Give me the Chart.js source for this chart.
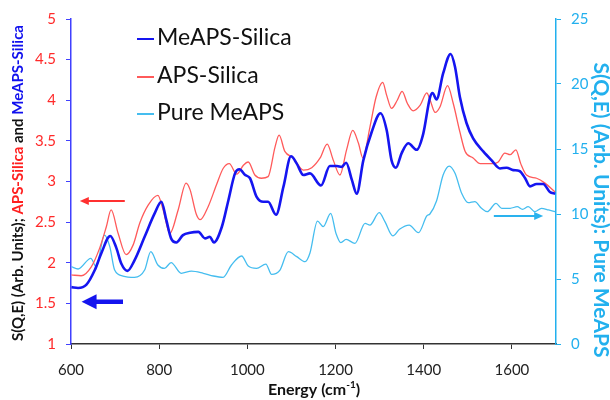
<!DOCTYPE html>
<html lang="en">
<head>
<meta charset="UTF-8">
<title>S(Q,E) spectra</title>
<script src="https://cdn.jsdelivr.net/npm/chart.js"></script>
<style>
  * { margin: 0; padding: 0; box-sizing: border-box; }
  body { background: #fff; width: 610px; height: 400px; overflow: hidden; }
  #chartWrap { position: relative; width: 610px; height: 400px; }
</style>
</head>
<body>
<div id="chartWrap"><canvas id="spectraChart" width="610" height="400"></canvas></div>
<script>
// MeAPS-Silica (left axis)
const meapsSilicaEnergy = [601, 616, 635, 654, 669, 689, 703, 714, 728, 744, 767, 790, 805, 816, 827, 839, 854, 870, 889, 904, 915, 924, 942, 957, 972, 982, 995, 1006, 1021, 1036, 1047, 1065, 1082, 1099, 1112, 1127, 1142, 1167, 1187, 1203, 1214, 1224, 1237, 1248, 1263, 1282, 1302, 1316, 1327, 1337, 1350, 1365, 1384, 1399, 1414, 1420, 1429, 1444, 1461, 1471, 1482, 1497, 1512, 1535, 1554, 1573, 1588, 1603, 1617, 1630, 1641, 1656, 1671, 1686, 1698];
const meapsSilicaValues = [1.70, 1.69, 1.73, 1.91, 2.12, 2.33, 2.18, 1.99, 1.90, 2.03, 2.32, 2.61, 2.75, 2.53, 2.30, 2.25, 2.34, 2.37, 2.38, 2.30, 2.32, 2.25, 2.44, 2.77, 3.10, 3.15, 3.08, 3.04, 2.81, 2.75, 2.75, 2.59, 2.94, 3.31, 3.22, 3.08, 3.10, 2.95, 3.19, 3.19, 3.18, 3.23, 3.02, 2.85, 3.26, 3.61, 3.84, 3.63, 3.26, 3.17, 3.35, 3.47, 3.39, 3.59, 4.03, 4.09, 4.01, 4.33, 4.57, 4.41, 4.04, 3.72, 3.53, 3.37, 3.26, 3.16, 3.17, 3.14, 3.13, 3.04, 2.94, 2.97, 2.97, 2.87, 2.85];

// APS-Silica (left axis)
const apsSilicaEnergy = [601, 623, 646, 665, 680, 691, 707, 725, 741, 756, 775, 797, 809, 824, 843, 861, 870, 884, 893, 911, 930, 945, 959, 976, 991, 1002, 1017, 1032, 1047, 1063, 1072, 1085, 1104, 1127, 1146, 1165, 1181, 1195, 1210, 1225, 1239, 1252, 1262, 1278, 1292, 1307, 1316, 1327, 1340, 1351, 1363, 1376, 1392, 1407, 1414, 1426, 1437, 1454, 1467, 1482, 1494, 1512, 1528, 1558, 1569, 1584, 1596, 1609, 1620, 1633, 1656, 1675, 1698];
const apsSilicaValues = [1.85, 1.84, 1.95, 2.18, 2.44, 2.65, 2.36, 2.10, 2.22, 2.49, 2.71, 2.83, 2.65, 2.36, 2.65, 2.98, 2.90, 2.60, 2.53, 2.69, 2.96, 3.16, 3.22, 3.09, 3.20, 3.24, 3.08, 3.04, 3.06, 3.43, 3.57, 3.37, 3.29, 3.14, 3.17, 3.29, 3.46, 3.26, 3.08, 3.39, 3.63, 3.47, 3.29, 3.67, 4.04, 4.22, 4.06, 3.90, 4.00, 4.11, 3.96, 3.87, 3.94, 4.09, 4.01, 3.85, 3.92, 4.18, 3.96, 3.61, 3.37, 3.29, 3.22, 3.22, 3.24, 3.35, 3.33, 3.39, 3.22, 3.08, 3.04, 2.98, 2.87];

// Pure MeAPS (right axis)
const pureMeapsEnergy = [601, 616, 645, 657, 676, 688, 699, 718, 744, 767, 781, 797, 812, 827, 850, 873, 900, 923, 945, 964, 987, 1002, 1021, 1042, 1055, 1074, 1093, 1112, 1131, 1142, 1159, 1172, 1189, 1201, 1212, 1224, 1244, 1267, 1278, 1299, 1312, 1330, 1345, 1367, 1388, 1407, 1414, 1429, 1444, 1458, 1471, 1486, 1501, 1516, 1531, 1544, 1564, 1577, 1596, 1612, 1624, 1637, 1652, 1667, 1683, 1698];
const pureMeapsValues = [5.95, 5.77, 6.59, 5.95, 8.38, 7.49, 5.69, 5.23, 5.13, 5.69, 7.10, 6.08, 5.82, 6.26, 5.44, 5.60, 5.44, 5.23, 5.13, 6.08, 6.77, 6.00, 5.82, 6.15, 5.36, 5.69, 7.10, 6.72, 6.33, 7.00, 9.45, 9.03, 10.05, 8.51, 7.80, 8.05, 7.74, 9.28, 9.15, 10.10, 9.41, 8.31, 8.82, 9.15, 8.56, 9.85, 10.00, 11.00, 13.00, 13.69, 13.13, 11.59, 10.87, 10.95, 10.44, 10.18, 10.82, 10.44, 10.44, 10.56, 10.36, 10.56, 10.18, 10.44, 10.31, 10.18];

const seriesLabels = ['MeAPS-Silica', 'APS-Silica', 'Pure MeAPS'];
const energyTicks = [600, 800, 1000, 1200, 1400, 1600];

const BLUE = '#1515f0';
const RED = '#ff5a5a';
const CYAN = '#45bdef';
const AXIS_RED = '#ff2a2a';
const AXIS_CYAN = '#22b0ee';

function toPoints(xs, ys) {
    return xs.map((x, i) => ({ x: x, y: ys[i] }));
}

function drawArrow(ctx, x1, y, x2, lw, headLen, headHalf, color) {
    const dir = x2 > x1 ? 1 : -1;
    ctx.save();
    ctx.strokeStyle = color;
    ctx.fillStyle = color;
    ctx.lineWidth = lw;
    ctx.beginPath();
    ctx.moveTo(x1, y);
    ctx.lineTo(x2 - dir * headLen * 0.8, y);
    ctx.stroke();
    ctx.beginPath();
    ctx.moveTo(x2, y);
    ctx.lineTo(x2 - dir * headLen, y - headHalf);
    ctx.lineTo(x2 - dir * headLen, y + headHalf);
    ctx.closePath();
    ctx.fill();
    ctx.restore();
}

// arrows, legend and axis titles
const decorations = {
    id: 'decorations',
    afterDatasetsDraw(chart) {
        const ctx = chart.ctx;
        const x = chart.scales.x, yl = chart.scales.yLeft, yr = chart.scales.yRight;
        drawArrow(ctx, x.getPixelForValue(722), yl.getPixelForValue(2.76), x.getPixelForValue(620), 2, 9, 4, '#ff3030');
        drawArrow(ctx, x.getPixelForValue(718), yl.getPixelForValue(1.52), x.getPixelForValue(624), 4.5, 15, 7.5, '#1414ee');
        drawArrow(ctx, x.getPixelForValue(1559), yr.getPixelForValue(9.85), x.getPixelForValue(1671), 2, 9, 4, '#2ab2ee');
    },
    afterDraw(chart) {
        const ctx = chart.ctx;
        ctx.save();

        // legend inside the plot
        const rows = [38, 76, 113];
        ctx.font = '23px Lato';
        ctx.textBaseline = 'middle';
        chart.data.datasets.forEach((ds, i) => {
            ctx.strokeStyle = ds.borderColor;
            ctx.lineWidth = 2;
            ctx.beginPath();
            ctx.moveTo(137, rows[i] + 1);
            ctx.lineTo(154, rows[i] + 1);
            ctx.stroke();
            ctx.fillStyle = '#111';
            ctx.textAlign = 'left';
            ctx.fillText(ds.label, 157, rows[i]);
        });

        // left title, several colours
        const parts = [
            ['S(Q,E) (Arb. Units); ', '#111'],
            ['APS-Silica', '#ff2020'],
            [' and ', '#111'],
            ['MeAPS-Silica', '#1010ee']
        ];
        ctx.font = 'bold 15px Lato';
        const total = parts.reduce((s, p) => s + ctx.measureText(p[0]).width, 0);
        ctx.save();
        ctx.translate(18, 183);
        ctx.rotate(-Math.PI / 2);
        ctx.textAlign = 'left';
        let px = -total / 2;
        parts.forEach(p => {
            ctx.fillStyle = p[1];
            ctx.fillText(p[0], px, 0);
            px += ctx.measureText(p[0]).width;
        });
        ctx.restore();

        // right title
        ctx.save();
        ctx.font = 'bold 21px Lato';
        ctx.fillStyle = AXIS_CYAN;
        ctx.translate(601, 210);
        ctx.rotate(Math.PI / 2);
        ctx.textAlign = 'center';
        ctx.fillText('S(Q,E) (Arb. Units): Pure MeAPS', 0, 0);
        ctx.restore();

        // x title with superscript
        ctx.fillStyle = '#111';
        ctx.textAlign = 'left';
        ctx.textBaseline = 'alphabetic';
        const main = 'Energy (cm', sup = '-1', end = ')';
        ctx.font = 'bold 16px Lato';
        const wMain = ctx.measureText(main).width, wEnd = ctx.measureText(end).width;
        ctx.font = 'bold 10px Lato';
        const wSup = ctx.measureText(sup).width;
        let tx = 314 - (wMain + wSup + wEnd) / 2;
        ctx.font = 'bold 16px Lato';
        ctx.fillText(main, tx, 395);
        tx += wMain;
        ctx.font = 'bold 10px Lato';
        ctx.fillText(sup, tx, 388);
        tx += wSup;
        ctx.font = 'bold 16px Lato';
        ctx.fillText(end, tx, 395);

        ctx.restore();
    }
};

new Chart(document.getElementById('spectraChart'), {
    type: 'line',
    data: {
        datasets: [
            {
                label: seriesLabels[0],
                data: toPoints(meapsSilicaEnergy, meapsSilicaValues),
                borderColor: BLUE,
                borderWidth: 2.6,
                yAxisID: 'yLeft'
            },
            {
                label: seriesLabels[1],
                data: toPoints(apsSilicaEnergy, apsSilicaValues),
                borderColor: RED,
                borderWidth: 1.3,
                yAxisID: 'yLeft'
            },
            {
                label: seriesLabels[2],
                data: toPoints(pureMeapsEnergy, pureMeapsValues),
                borderColor: CYAN,
                borderWidth: 1.3,
                yAxisID: 'yRight'
            }
        ]
    },
    options: {
        responsive: false,
        animation: false,
        devicePixelRatio: 1,
        layout: { padding: { top: 19, left: 0, right: 0, bottom: 0 } },
        elements: {
            point: { radius: 0 },
            line: { cubicInterpolationMode: 'monotone', fill: false }
        },
        plugins: {
            legend: { display: false },
            tooltip: { enabled: false }
        },
        scales: {
            x: {
                type: 'linear',
                min: 600,
                max: 1700,
                afterBuildTicks: s => { s.ticks = energyTicks.map(v => ({ value: v })); },
                afterFit: s => { s.height = 56; },
                border: { color: '#333', width: 1.5 },
                grid: { drawOnChartArea: false, color: '#333', tickLength: 5 },
                ticks: { font: { family: 'Lato', size: 15 }, color: '#222', padding: 12, callback: v => String(v) }
            },
            yLeft: {
                position: 'left',
                min: 1,
                max: 5,
                afterFit: s => { s.width = 71; },
                border: { color: '#4040ff', width: 1.5 },
                grid: { drawOnChartArea: false, color: '#4040ff', tickLength: 5 },
                ticks: { stepSize: 0.5, font: { family: 'Lato', size: 15 }, color: AXIS_RED, padding: 10, callback: v => String(v) }
            },
            yRight: {
                position: 'right',
                min: 0,
                max: 25,
                afterFit: s => { s.width = 54; },
                border: { color: AXIS_CYAN, width: 1.5 },
                grid: { drawOnChartArea: false, color: AXIS_CYAN, tickLength: 5 },
                ticks: { stepSize: 5, font: { family: 'Lato', size: 15 }, color: AXIS_CYAN, padding: 10, callback: v => String(v) }
            }
        }
    },
    plugins: [decorations]
});
</script>
</body>
</html>
